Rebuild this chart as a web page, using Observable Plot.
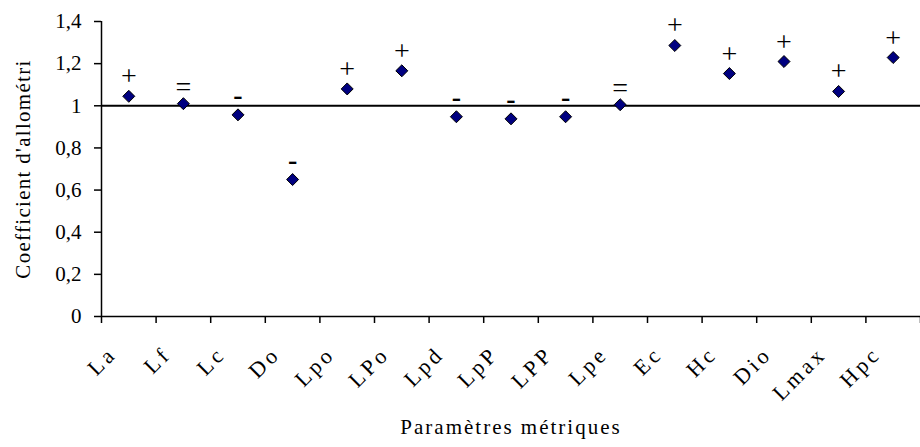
<!DOCTYPE html>
<html>
<head>
<meta charset="utf-8">
<script src="https://cdn.jsdelivr.net/npm/d3@7"></script>
<script src="https://cdn.jsdelivr.net/npm/@observablehq/plot@0.6"></script>
<style>
  body { margin: 0; background: #fff; }
  svg { font-family: "Liberation Serif", "Times New Roman", serif; }
</style>
</head>
<body>
<div id="chart"></div>
<script>
const categories = ["La", "Lf", "Lc", "Do", "Lpo", "LPo", "Lpd", "LpP", "LPP", "Lpe", "Ec", "Hc", "Dio", "Lmax", "Hpc"];
const values = [1.045, 1.01, 0.957, 0.65, 1.08, 1.166, 0.948, 0.938, 0.948, 1.005, 1.286, 1.153, 1.21, 1.068, 1.229];
const signs = ["+", "=", "-", "-", "+", "+", "-", "-", "-", "=", "+", "+", "+", "+", "+"];
const yTicks = [0, 0.2, 0.4, 0.6, 0.8, 1, 1.2, 1.4];
const xTitle = "Paramètres métriques";
const yTitle = "Coefficient d'allométri";

const data = categories.map((c, i) => ({cat: c, i, pos: i + 0.5, v: values[i], sign: signs[i]}));
const boundaries = d3.range(categories.length + 1);
const fmt = d => String(+d.toFixed(1)).replace(".", ",");
const serif = "'Liberation Serif', 'Times New Roman', serif";

const chart = Plot.plot({
  width: 920,
  height: 447,
  marginLeft: 101,
  marginRight: 0,
  marginTop: 21,
  marginBottom: 131,
  style: {fontFamily: serif, fontSize: "20px", color: "#000", background: "#fff"},
  x: {type: "linear", domain: [0, categories.length]},
  y: {domain: [0, 1.4]},
  marks: [
    Plot.axisY({ticks: yTicks, tickFormat: fmt, tickSize: 7, tickPadding: 13, fontSize: 21, strokeWidth: 1.5, label: null}),
    Plot.axisX({ticks: boundaries, tickFormat: () => "", tickSize: 7, strokeWidth: 1.5, label: null}),
    Plot.text(data, {x: "pos", text: "cat", frameAnchor: "bottom", rotate: -45, textAnchor: "end", lineAnchor: "middle",
      dx: -16, dy: 34, fontSize: 22, fill: "#000"}),
    Plot.text([xTitle], {frameAnchor: "bottom", text: d => d, textAnchor: "middle", dy: 117, fontSize: 21, fill: "#000"}),
    Plot.text([yTitle], {frameAnchor: "left", text: d => d, textAnchor: "middle", rotate: -90, dx: -78, fontSize: 21, fill: "#000"}),
    Plot.ruleX([0], {stroke: "#000", strokeWidth: 1.5}),
    Plot.ruleY([0], {stroke: "#000", strokeWidth: 1.5}),
    Plot.ruleY([1], {stroke: "#000", strokeWidth: 2}),
    Plot.dot(data, {x: "pos", y: "v", symbol: "diamond2", r: 5.4, fill: "#000080", stroke: "#000", strokeWidth: 1}),
    Plot.text(data, {filter: d => d.sign === "+", x: "pos", y: "v", text: "sign", dy: -20, fontSize: 28, fill: "#000"}),
    Plot.text(data, {filter: d => d.sign === "-", x: "pos", y: "v", text: "sign", dy: -20, fontSize: 28, fontWeight: "bold", fill: "#000"}),
    Plot.text(data, {filter: d => d.sign === "=", x: "pos", y: "v", text: "sign", dy: -17, fontSize: 28, fill: "#000"})
  ]
});
// letter spacing to mimic the wide bitmap font of the original
const sel = d3.select(chart).selectAll("text");
sel.filter(function () { return this.textContent === xTitle; }).attr("letter-spacing", "2px");
sel.filter(function () { return this.textContent === yTitle; }).attr("letter-spacing", "1.3px");
sel.filter(function () { return categories.includes(this.textContent); }).attr("letter-spacing", "3.5px");
document.getElementById("chart").appendChild(chart);
</script>
</body>
</html>
